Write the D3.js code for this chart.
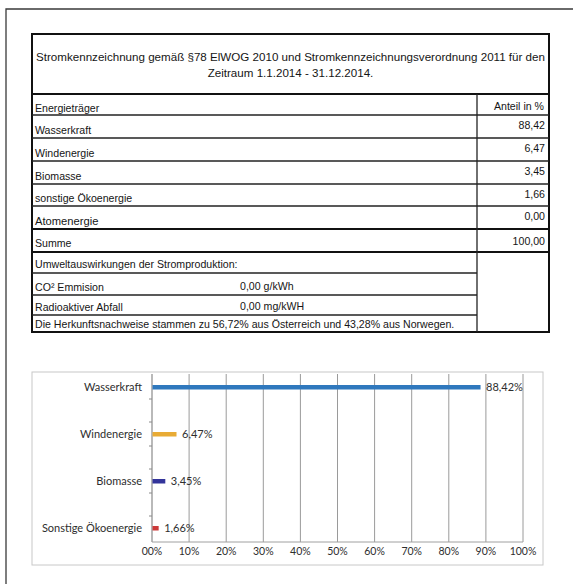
<!DOCTYPE html>
<html>
<head>
<meta charset="utf-8">
<script src="https://cdn.jsdelivr.net/npm/d3@7"></script>
<style>
  html, body { margin: 0; padding: 0; background: #fff; }
  svg { display: block; }
</style>
</head>
<body>
<svg id="chart" width="573" height="584"></svg>
<script>
// ---------- DATA ----------
const titleLines = [
  "Stromkennzeichnung gemäß §78 ElWOG 2010 und Stromkennzeichnungsverordnung 2011 für den",
  "Zeitraum 1.1.2014 - 31.12.2014."
];
const headerLabels = ["Energieträger", "Anteil in %"];
const tableSources = ["Wasserkraft", "Windenergie", "Biomasse", "sonstige Ökoenergie", "Atomenergie"];
const tableShares = ["88,42", "6,47", "3,45", "1,66", "0,00"];
const sumLabel = ["Summe", "100,00"];
const envTitle = "Umweltauswirkungen der Stromproduktion:";
const envLabels = ["CO² Emmision", "Radioaktiver Abfall"];
const envValues = ["0,00 g/kWh", "0,00 mg/kWH"];
const originNote = "Die Herkunftsnachweise stammen zu 56,72% aus Österreich und 43,28% aus Norwegen.";

const categories = ["Wasserkraft", "Windenergie", "Biomasse", "Sonstige Ökoenergie"];
const shares = [88.42, 6.47, 3.45, 1.66];
const barColors = ["#2f78bd", "#e8ab35", "#33349a", "#cc3a3a"];
const xTickValues = [0, 10, 20, 30, 40, 50, 60, 70, 80, 90, 100];
const xTickLabels = ["00%", "10%", "20%", "30%", "40%", "50%", "60%", "70%", "80%", "90%", "100%"];

// ---------- DRAW ----------
const svg = d3.select("#chart");

// page frame (open at right and bottom)
svg.append("path").attr("d", "M6,584 L6,9 L573,9")
  .attr("fill", "none").attr("stroke", "#3a3a3a").attr("stroke-width", 1.3);

// ---- table ----
const T = { left: 32, right: 549, top: 34, bottom: 332, divider: 477 };
const tFont = "'Liberation Sans', Arial, sans-serif";
const tColor = "#151515";
const tg = svg.append("g");

const rowLines = [115, 138, 161, 184, 206];
const thickLines = [94, 229, 252];
const lowerLines = [273, 295, 315];

tg.append("rect").attr("x", T.left).attr("y", T.top)
  .attr("width", T.right - T.left).attr("height", T.bottom - T.top)
  .attr("fill", "none").attr("stroke", "#111").attr("stroke-width", 2);

thickLines.forEach(y => tg.append("line").attr("x1", T.left).attr("x2", T.right)
  .attr("y1", y).attr("y2", y).attr("stroke", "#111").attr("stroke-width", 2));
rowLines.forEach(y => tg.append("line").attr("x1", T.left).attr("x2", T.right)
  .attr("y1", y).attr("y2", y).attr("stroke", "#222").attr("stroke-width", 1.3));
lowerLines.forEach(y => tg.append("line").attr("x1", T.left).attr("x2", T.divider)
  .attr("y1", y).attr("y2", y).attr("stroke", "#222").attr("stroke-width", 1.3));
tg.append("line").attr("x1", T.divider).attr("x2", T.divider)
  .attr("y1", 94).attr("y2", T.bottom).attr("stroke", "#222").attr("stroke-width", 1.3);

function ttext(x, y, s, anchor, size) {
  tg.append("text").attr("x", x).attr("y", y).attr("text-anchor", anchor || "start")
    .attr("font-family", tFont).attr("font-size", size || 10.6).attr("fill", tColor).text(s);
}
const cx = (T.left + T.right) / 2;
ttext(cx, 61, titleLines[0], "middle", 11.6);
ttext(cx, 77, titleLines[1], "middle", 11.6);

ttext(T.left + 3, 112, headerLabels[0]);
ttext(T.right - 5, 110, headerLabels[1], "end");

const rowTops = [115, 138, 161, 184, 206];
const rowBottoms = [138, 161, 184, 206, 229];
tableSources.forEach((s, i) => {
  ttext(T.left + 3, rowBottoms[i] - 4, s, "start", i === 4 ? 11.2 : 10.6);
  ttext(T.right - 4, rowTops[i] + 14, tableShares[i], "end");
});
ttext(T.left + 3, 247, sumLabel[0]);
ttext(T.right - 4, 245, sumLabel[1], "end");
ttext(T.left + 3, 268, envTitle);
envLabels.forEach((s, i) => {
  const yb = [291, 311][i];
  ttext(T.left + 3, yb, s);
  ttext(240, yb - 1, envValues[i]);
});
ttext(T.left + 3, 328, originNote, "start", 10.6);

// ---- bar chart ----
const C = { left: 32, top: 372, right: 543, bottom: 565 };
const P = { left: 152, right: 523, top: 374, bottom: 542 };
const cFont = "Lato, 'Open Sans', sans-serif";
const cColor = "#2e2e2e";
const cg = svg.append("g");

cg.append("rect").attr("x", C.left).attr("y", C.top)
  .attr("width", C.right - C.left).attr("height", C.bottom - C.top)
  .attr("fill", "#fff").attr("stroke", "#c8c8c8").attr("stroke-width", 1);

const x = d3.scaleLinear().domain([0, 100]).range([P.left, P.right]);
const y = d3.scalePoint().domain(categories).range([387, 528]);

// gridlines
cg.selectAll(".grid").data(xTickValues.slice(1)).enter().append("line")
  .attr("x1", d => x(d)).attr("x2", d => x(d))
  .attr("y1", P.top).attr("y2", P.bottom)
  .attr("stroke", "#9a9a9a").attr("stroke-width", 1);

// y axis line and ticks
cg.append("line").attr("x1", P.left).attr("x2", P.left).attr("y1", P.top).attr("y2", P.bottom)
  .attr("stroke", "#8a8a8a").attr("stroke-width", 1.2);
const yTicks = [];
categories.forEach((c, i) => {
  if (i > 0) yTicks.push(y(c) - 12);
  if (i < categories.length - 1) yTicks.push(y(c) + 12);
});
cg.selectAll(".ytick").data(yTicks).enter().append("line")
  .attr("x1", P.left - 3).attr("x2", P.left).attr("y1", d => d).attr("y2", d => d)
  .attr("stroke", "#8a8a8a").attr("stroke-width", 1);

// x axis line
cg.append("line").attr("x1", P.left).attr("x2", P.right).attr("y1", P.bottom).attr("y2", P.bottom)
  .attr("stroke", "#a0a0a0").attr("stroke-width", 1);

// x tick labels
cg.selectAll(".xlab").data(xTickValues).enter().append("text")
  .attr("x", d => x(d)).attr("y", 555)
  .attr("text-anchor", "middle").attr("font-family", cFont).attr("font-size", 10.5)
  .attr("fill", cColor).text((d, i) => xTickLabels[i]);

// category labels
cg.selectAll(".clab").data(categories).enter().append("text")
  .attr("x", P.left - 10).attr("y", d => y(d) + 4)
  .attr("text-anchor", "end").attr("font-family", cFont).attr("font-size", 11)
  .attr("fill", cColor).text(d => d);

// bars
cg.selectAll(".bar").data(shares).enter().append("rect")
  .attr("x", x(0) + 0.5).attr("y", (d, i) => y(categories[i]) - 2)
  .attr("width", d => x(d) - x(0)).attr("height", 4.5)
  .attr("fill", (d, i) => barColors[i]);

// value labels
cg.selectAll(".vlab").data(shares).enter().append("text")
  .attr("x", d => x(d) + 6).attr("y", (d, i) => y(categories[i]) + 4)
  .attr("font-family", cFont).attr("font-size", 11).attr("fill", cColor)
  .text(d => d.toFixed(2).replace(".", ",") + "%");
</script>
</body>
</html>
